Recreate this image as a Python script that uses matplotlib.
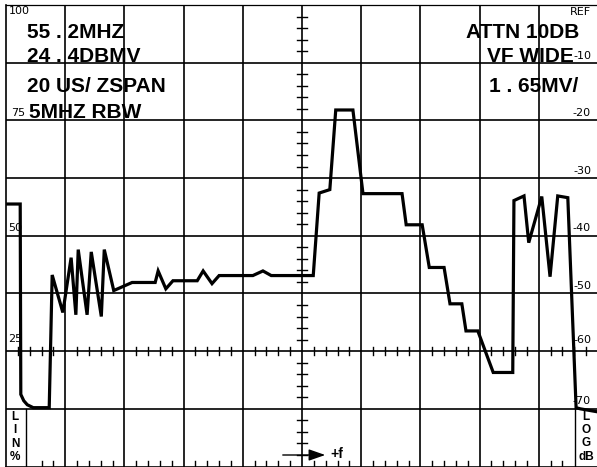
import numpy as np
import matplotlib
matplotlib.use("Agg")
import matplotlib.pyplot as plt

# trace: x in divisions (0-10), level in dB below REF
trace_x = [0.03, 0.24, 0.25, 0.30, 0.36, 0.46, 0.73, 0.78, 0.96, 1.10, 1.18, 1.22,
           1.37, 1.44, 1.61, 1.66, 1.82, 2.13, 2.52, 2.57, 2.70, 2.82, 3.23, 3.33,
           3.48, 3.60, 4.17, 4.34, 4.48, 5.19, 5.29, 5.47, 5.57, 5.86, 6.03, 6.69,
           6.76, 7.03, 7.15, 7.40, 7.50, 7.70, 7.77, 7.97, 8.23, 8.56, 8.58, 8.75,
           8.83, 9.05, 9.19, 9.32, 9.49, 9.63, 9.70, 9.98]
trace_db = [-34.5, -34.5, -67.5, -68.6, -69.3, -69.8, -69.8, -46.8, -53.3, -43.8, -53.7, -42.4,
            -53.7, -42.8, -54.0, -42.4, -49.5, -48.1, -48.1, -46.1, -49.2, -47.8, -47.8, -46.1,
            -48.3, -46.9, -46.9, -46.1, -46.9, -46.9, -32.6, -32.0, -18.2, -18.2, -32.7, -32.7,
            -38.1, -38.1, -45.5, -45.5, -51.8, -51.8, -56.5, -56.5, -63.7, -63.7, -33.9, -33.1,
            -41.2, -33.2, -47.1, -33.1, -33.4, -69.8, -70.0, -70.5]

left_info = ["55 . 2MHZ", "24 . 4DBMV", "20 US/ ZSPAN", "5MHZ RBW"]
right_info = ["ATTN 10DB", "VF WIDE", "1 . 65MV/"]
lin_labels = ["100", "75", "50", "25"]
log_labels = ["REF", "-10", "-20", "-30", "-40", "-50", "-60", "-70"]

W, H = 597, 467
fig = plt.figure(figsize=(W / 100, H / 100), dpi=100)
fig.patch.set_facecolor("white")
ax = fig.add_axes([6 / W, 0.5 / H, 592 / W, 461.5 / H])
ax.set_xlim(0, 10)
ax.set_ylim(-80, 0)
ax.set_xticks([])
ax.set_yticks([])
for s in ax.spines.values():
    s.set_linewidth(1.2)
ax.spines["right"].set_visible(False)
ax.spines["top"].set_linewidth(0.9)

# graticule
for gx in range(1, 10):
    ax.axvline(gx, color="black", lw=1.2)
for gy in range(-70, 0, 10):
    ax.axhline(gy, color="black", lw=1.2)

# minor ticks on centre lines and bottom edge
minor_x = [i / 5 for i in range(1, 50) if i % 5 != 0]
for mx in minor_x:
    ax.plot([mx, mx], [-60.7, -59.3], color="black", lw=1.0)
    if 0.5 < mx < 9.5:
        ax.plot([mx, mx], [-80, -79.0], color="black", lw=1.0)
for my in range(-78, 0, 2):
    if my % 10 != 0:
        ax.plot([4.915, 5.085], [my, my], color="black", lw=1.0)

# small boxes in the bottom row
ax.plot([0.338, 0.338], [-80, -70], color="black", lw=1.0)
ax.plot([9.61, 9.61], [-80, -70], color="black", lw=1.0)

ax.plot(trace_x, trace_db, color="black", lw=2.3, solid_joinstyle="miter")

bold = dict(family="Liberation Sans", weight="bold", color="black")
for i, t in enumerate(left_info):
    fig.text((27 if i < 3 else 29) / W, 1 - [32, 57, 86, 112][i] / H, t,
             fontsize=15, ha="left", va="center", **bold)
for i, t in enumerate(right_info):
    fig.text([579, 574, 578][i] / W, 1 - [32, 57, 86][i] / H, t,
             fontsize=15, ha="right", va="center", **bold)

small = dict(family="Liberation Sans Narrow", color="black", fontsize=8)
for t, x, y in zip(lin_labels, [9, 11, 8, 8], [11, 113, 228, 339]):
    fig.text(x / W, 1 - y / H, t, ha="left", va="center", **small)
for t, y in zip(log_labels, [12, 56, 113, 171, 228, 286, 340, 401]):
    fig.text(591 / W, 1 - y / H, t, ha="right", va="center", **small)

for t, y in zip(["L", "I", "N", "%"], [417, 430, 444, 457]):
    fig.text(15 / W, 1 - y / H, t, ha="center", va="center", fontsize=8.5, **bold)
for t, y in zip(["L", "O", "G", "dB"], [417, 430, 443, 457]):
    fig.text(586 / W, 1 - y / H, t, ha="center", va="center", fontsize=8.5, **bold)

ax.annotate("", xy=(328, 12), xytext=(280, 12), xycoords="figure pixels",
            textcoords="figure pixels",
            arrowprops=dict(arrowstyle="-|>,head_length=1.0,head_width=0.35",
                            color="black", lw=1.0))
fig.text(330 / W, 13 / H, "+f", ha="left", va="center", fontsize=10, **bold)

fig.savefig("out.png", dpi=100, facecolor="white")
